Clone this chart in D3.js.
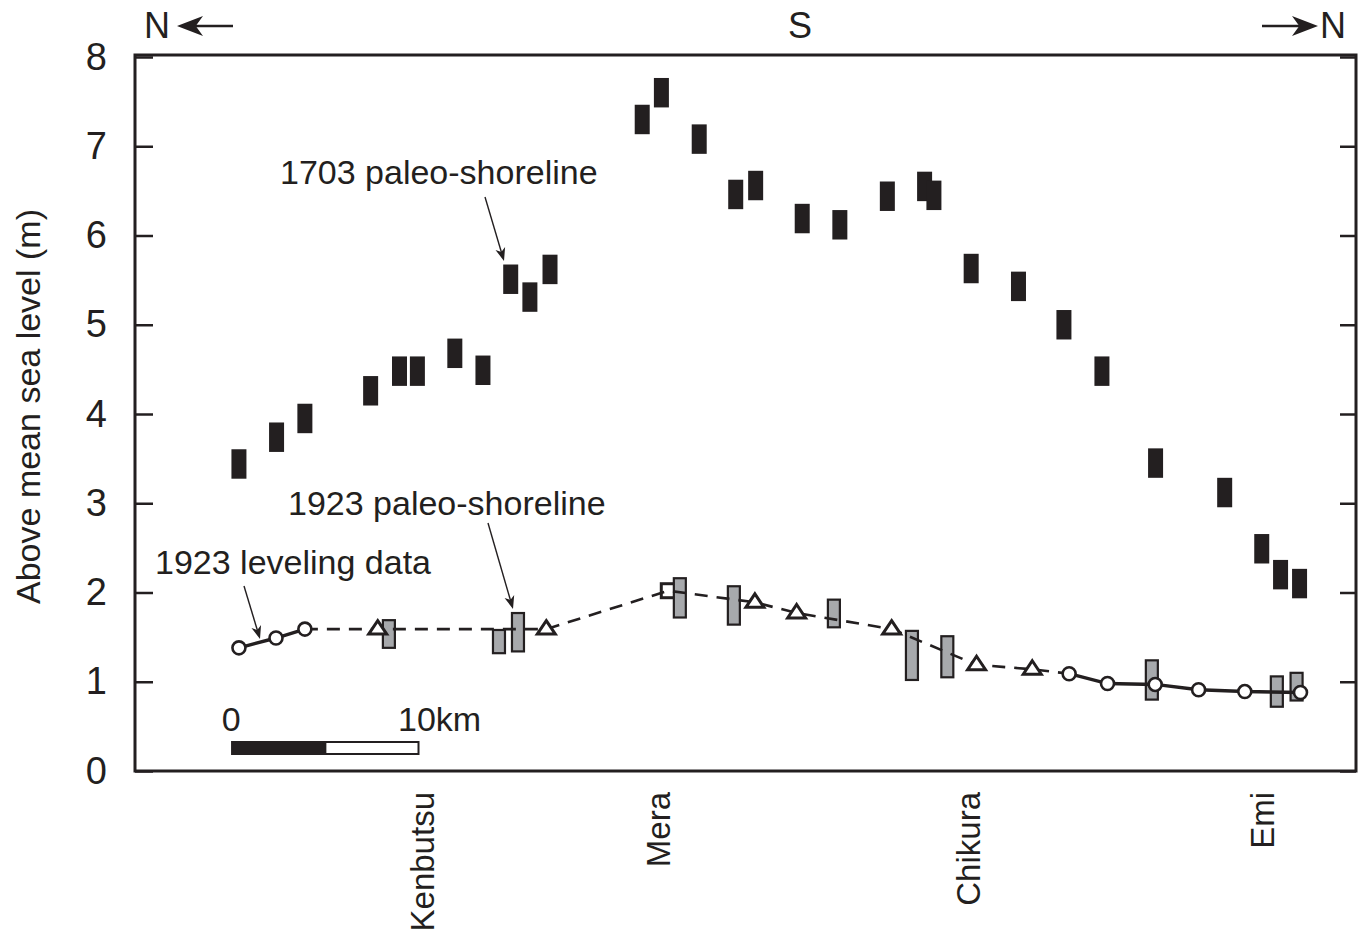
<!DOCTYPE html>
<html>
<head>
<meta charset="utf-8">
<script src="https://cdn.jsdelivr.net/npm/d3@7"></script>
<style>
  html, body { margin: 0; padding: 0; background: #fff; }
  svg { display: block; }
  text { font-family: "Liberation Sans", Arial, Helvetica, sans-serif; fill: #231f20; }
</style>
</head>
<body>
<svg id="chart" width="1360" height="940"></svg>
<script>
// ---------------- DATA ----------------
// distance along coast (km, from left frame edge) and heights above mean sea level (m)
const yTicks = [0, 1, 2, 3, 4, 5, 6, 7, 8];

// 1703 paleo-shoreline (centre of each bar)
const shore1703Km  = [5.58, 7.60, 9.12, 12.65, 14.20, 15.16, 17.17, 18.68, 20.17, 21.20, 22.28,
                      27.23, 28.26, 30.29, 32.25, 33.32, 35.82, 37.84, 40.39, 42.39, 42.89,
                      44.89, 47.43, 49.87, 51.91, 54.79, 58.50, 60.49, 61.50, 62.52];
const shore1703Val = [3.44, 3.74, 3.95, 4.26, 4.48, 4.48, 4.68, 4.49, 5.51, 5.31, 5.62,
                      7.30, 7.60, 7.08, 6.46, 6.56, 6.19, 6.12, 6.44, 6.55, 6.45,
                      5.63, 5.43, 5.00, 4.48, 3.45, 3.12, 2.49, 2.20, 2.10];
const shore1703Range = 0.33;

// 1923 paleo-shoreline (grey bars: low / high)
const shore1923Km = [13.63, 19.54, 20.56, 29.25, 32.15, 37.52, 41.71, 43.61, 54.59, 61.30, 62.36];
const shore1923Lo = [1.38, 1.32, 1.34, 1.72, 1.64, 1.61, 1.02, 1.05, 0.80, 0.72, 0.79];
const shore1923Hi = [1.69, 1.58, 1.77, 2.16, 2.07, 1.92, 1.57, 1.51, 1.24, 1.06, 1.10];

// 1923 leveling data (open circles, solid line) – north-west segment and south-east segment
const levelAKm  = [5.58, 7.57, 9.12];
const levelAVal = [1.38, 1.49, 1.59];
const levelBKm  = [50.15, 52.21, 54.77, 57.10, 59.58, 62.57];
const levelBVal = [1.09, 0.98, 0.97, 0.91, 0.89, 0.88];

// other 1923 estimates joined by dashed line (triangles / square)
const estKm   = [13.03, 22.08, 28.63, 33.28, 35.52, 40.62, 45.18, 48.17];
const estVal  = [1.59, 1.59, 2.02, 1.89, 1.77, 1.59, 1.19, 1.14];
const estType = ["tri", "tri", "sq", "tri", "tri", "tri", "tri", "tri"];

// place names on the x axis
const placeNames = ["Kenbutsu", "Mera", "Chikura", "Emi"];
const placeKm    = [15.41, 28.07, 44.74, 60.52];

// scale bar
const scaleBarStartKm = 5.22;
const scaleBarLenKm = 10;

// ---------------- DRAW ----------------
(function () {
const ink = "#231f20";
const grey = "#a7a9ac";
const svg = d3.select("#chart");

const pLeft = 135, pRight = 1356, pTop = 55, pBottom = 771;
const x = d3.scaleLinear().domain([0, 65.55]).range([pLeft, pRight]);
const y = d3.scaleLinear().domain([0, 8]).range([pBottom, 57]);

function arrowHead(x1, y1, x2, y2, L, Wd) {
  const a = Math.atan2(y2 - y1, x2 - x1);
  const pts = [[0, 0], [-L, -Wd], [-L * 0.72, 0], [-L, Wd]].map(([px, py]) => [
    x2 + px * Math.cos(a) - py * Math.sin(a),
    y2 + px * Math.sin(a) + py * Math.cos(a)
  ]);
  return "M" + pts.map(p => p.join(",")).join("L") + "Z";
}
function arrow(g, x1, y1, x2, y2, L, Wd, sw) {
  const a = Math.atan2(y2 - y1, x2 - x1);
  g.append("line").attr("x1", x1).attr("y1", y1)
    .attr("x2", x2 - Math.cos(a) * L * 0.7).attr("y2", y2 - Math.sin(a) * L * 0.7)
    .attr("stroke", ink).attr("stroke-width", sw);
  g.append("path").attr("d", arrowHead(x1, y1, x2, y2, L, Wd)).attr("fill", ink);
}

// Axes
const yAxisL = d3.axisLeft(y).tickValues(yTicks).tickSize(-18).tickPadding(28).tickFormat(d3.format("d"));
const gL = svg.append("g").attr("transform", `translate(${pLeft},0)`).call(yAxisL);
gL.select(".domain").remove();
gL.selectAll(".tick line").attr("stroke", ink).attr("stroke-width", 2.5);
gL.selectAll(".tick text").style("font-size", "38px").attr("fill", ink)
  .style("font-family", '"Liberation Sans", Arial, sans-serif');

const yAxisR = d3.axisRight(y).tickValues(yTicks).tickSize(-16).tickFormat("");
const gR = svg.append("g").attr("transform", `translate(${pRight},0)`).call(yAxisR);
gR.select(".domain").remove();
gR.selectAll(".tick line").attr("stroke", ink).attr("stroke-width", 2.5);

// frame
svg.append("rect").attr("x", pLeft).attr("y", pTop).attr("width", pRight - pLeft).attr("height", pBottom - pTop)
  .attr("fill", "none").attr("stroke", ink).attr("stroke-width", 3);

// y title
svg.append("text")
  .attr("transform", `translate(40,${(210 + 603) / 2}) rotate(-90)`)
  .attr("text-anchor", "middle").style("font-size", "34px")
  .text("Above mean sea level (m)");

// place names
svg.append("g").selectAll("text").data(placeNames).join("text")
  .attr("transform", (d, i) => `translate(${x(placeKm[i]) + 12},792) rotate(-90)`)
  .attr("text-anchor", "end").style("font-size", "33px")
  .text(d => d);

// N / S headings
const hd = svg.append("g");
hd.append("text").attr("x", 144).attr("y", 38).style("font-size", "36px").text("N");
arrow(hd, 233, 26, 177, 26, 26, 10, 2.5);
hd.append("text").attr("x", 800).attr("y", 38).attr("text-anchor", "middle").style("font-size", "36px").text("S");
arrow(hd, 1262, 26, 1318, 26, 26, 10, 2.5);
hd.append("text").attr("x", 1320).attr("y", 38).style("font-size", "36px").text("N");

// 1703 paleo-shoreline bars
svg.append("g").selectAll("rect").data(shore1703Val).join("rect")
  .attr("x", (d, i) => x(shore1703Km[i]) - 7.5)
  .attr("y", d => y(d + shore1703Range / 2))
  .attr("width", 15)
  .attr("height", d => y(d - shore1703Range / 2) - y(d + shore1703Range / 2))
  .attr("fill", ink);

// square estimate (below grey bars)
const estIdx = d3.range(estKm.length);
svg.append("g").selectAll("rect").data(estIdx.filter(i => estType[i] === "sq")).join("rect")
  .attr("x", i => x(estKm[i]) - 7).attr("y", i => y(estVal[i]) - 7)
  .attr("width", 14).attr("height", 14)
  .attr("fill", "#fff").attr("stroke", ink).attr("stroke-width", 3);

// 1923 paleo-shoreline grey bars
svg.append("g").selectAll("rect").data(shore1923Km).join("rect")
  .attr("x", d => x(d) - 6)
  .attr("y", (d, i) => y(shore1923Hi[i]))
  .attr("width", 12)
  .attr("height", (d, i) => y(shore1923Lo[i]) - y(shore1923Hi[i]))
  .attr("fill", grey).attr("stroke", ink).attr("stroke-width", 2.2);

// dashed line
const line = d3.line().x(d => x(d[0])).y(d => y(d[1]));
const dashedPts = [[levelAKm[2], levelAVal[2]]]
  .concat(estKm.map((k, i) => [k, estVal[i]]))
  .concat([[levelBKm[0], levelBVal[0]]]);
svg.append("path").attr("d", line(dashedPts)).attr("fill", "none")
  .attr("stroke", ink).attr("stroke-width", 2.6).attr("stroke-dasharray", "13,9");

// solid lines
[[levelAKm, levelAVal], [levelBKm, levelBVal]].forEach(([ks, vs]) => {
  svg.append("path").attr("d", line(ks.map((k, i) => [k, vs[i]]))).attr("fill", "none")
    .attr("stroke", ink).attr("stroke-width", 3.4);
});

// triangles
const triPath = "M0,-8.5L9,5L-9,5Z";
svg.append("g").selectAll("path").data(estIdx.filter(i => estType[i] === "tri")).join("path")
  .attr("transform", i => `translate(${x(estKm[i])},${y(estVal[i])})`)
  .attr("d", triPath).attr("fill", "#fff").attr("stroke", ink).attr("stroke-width", 3)
  .attr("stroke-linejoin", "miter");

// circles
const circ = levelAKm.map((k, i) => [k, levelAVal[i]]).concat(levelBKm.map((k, i) => [k, levelBVal[i]]));
svg.append("g").selectAll("circle").data(circ).join("circle")
  .attr("cx", d => x(d[0])).attr("cy", d => y(d[1])).attr("r", 6.5)
  .attr("fill", "#fff").attr("stroke", ink).attr("stroke-width", 2.6);

// annotations
const an = svg.append("g");
an.append("text").attr("x", 280).attr("y", 184).style("font-size", "34px").text("1703 paleo-shoreline");
arrow(an, 485, 197, 504, 261, 13, 5, 1.4);
an.append("text").attr("x", 288).attr("y", 515).style("font-size", "34px").text("1923 paleo-shoreline");
arrow(an, 488, 523, 513, 609, 13, 5, 1.4);
an.append("text").attr("x", 155).attr("y", 574).style("font-size", "34px").text("1923 leveling data");
arrow(an, 244, 586, 260, 639, 13, 5, 1.4);

// scale bar
const sb = svg.append("g");
const sbY = 742, sbH = 12;
sb.append("rect").attr("x", x(scaleBarStartKm)).attr("y", sbY)
  .attr("width", x(scaleBarStartKm + scaleBarLenKm) - x(scaleBarStartKm)).attr("height", sbH)
  .attr("fill", "#fff").attr("stroke", ink).attr("stroke-width", 2);
sb.append("rect").attr("x", x(scaleBarStartKm)).attr("y", sbY)
  .attr("width", x(scaleBarStartKm + scaleBarLenKm / 2) - x(scaleBarStartKm)).attr("height", sbH)
  .attr("fill", ink).attr("stroke", ink).attr("stroke-width", 2);
sb.append("text").attr("x", x(scaleBarStartKm) - 1).attr("y", 731).attr("text-anchor", "middle")
  .style("font-size", "34px").text("0");
sb.append("text").attr("x", 398).attr("y", 731).style("font-size", "34px").text("10km");
})();
</script>
</body>
</html>
